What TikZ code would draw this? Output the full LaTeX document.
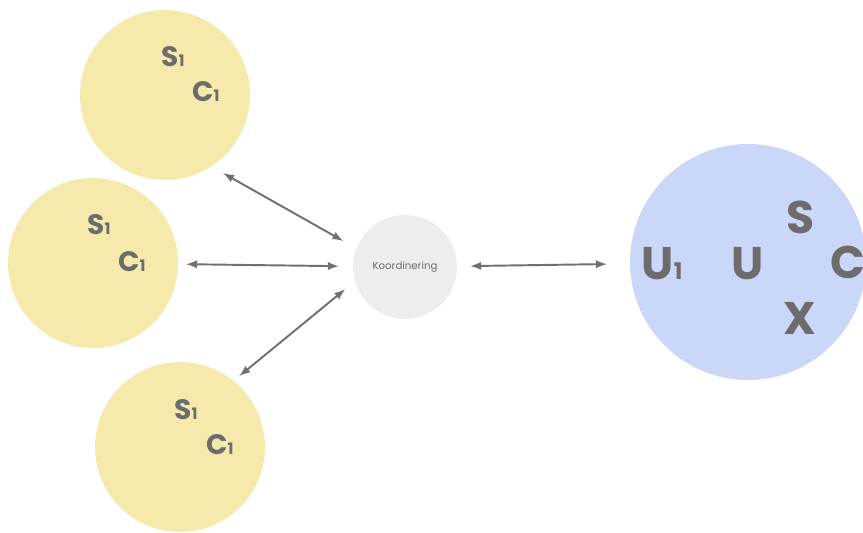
\documentclass[tikz,border=0pt]{standalone}
\usepackage{fontspec}
\setmainfont{Poppins}
\usepackage{tikz}
\usetikzlibrary{positioning}
\definecolor{memberFill}{RGB}{246,233,172}
\definecolor{unitFill}{RGB}{203,215,248}
\definecolor{coordFill}{RGB}{237,237,237}
\definecolor{labelGray}{RGB}{108,108,108}
\definecolor{arrowGray}{RGB}{112,112,112}
\tikzset{Member/.style={%
    shape=circle,%
    fill=memberFill,%
    minimum size=3.4cm,%
    inner sep=0pt,%
}}
\tikzset{Coordinator/.style={%
    shape=circle,%
    fill=coordFill,%
    minimum size=2.08cm,%
    inner sep=0pt,%
    text=labelGray,%
    font=\fontsize{5.8}{7}\selectfont,%
}}
\tikzset{Unit/.style={%
    shape=circle,%
    fill=unitFill,%
    minimum size=4.72cm,%
    inner sep=0pt,%
}}
\tikzset{SmallTag/.style={%
    text=labelGray,%
    font=\fontsize{16}{18}\selectfont\bfseries,%
    inner sep=0pt,%
}}
\tikzset{BigTag/.style={%
    text=labelGray,%
    font=\fontsize{26}{30}\selectfont\bfseries,%
    inner sep=0pt,%
}}
\tikzset{LinkEdge/.style={%
    <->,%
    >=latex,%
    draw=arrowGray,%
    line width=1.1pt,%
    shorten >=0.28cm,%
    shorten <=0.2cm,%
}}
\NewDocumentCommand{\tagOne}{m}{%
    #1{\fontsize{9}{9}\selectfont 1}%
}

\begin{document}
\begin{tikzpicture}[x=0.02cm,y=-0.02cm]
    \useasboundingbox (0,0) rectangle (863,532);

    % members on the left
    \node[Member] (m1) at (165,95) {};
    \node[Member] (m2) at (93,263) {};
    \node[Member] (m3) at (180,447) {};
    \node[Coordinator] (koord) at (405,267) {Koordinering};
    \node[Unit] (unit) at (748,262) {};

    \node[SmallTag] (m1s) at (173,57) {\tagOne{S}};
    \node[SmallTag] (m1c) at (206,92) {\tagOne{C}};
    \node[SmallTag] (m2s) at (99,225) {\tagOne{S}};
    \node[SmallTag] (m2c) at (132,262) {\tagOne{C}};
    \node[SmallTag] (m3s) at (186,410) {\tagOne{S}};
    \node[SmallTag] (m3c) at (220,445) {\tagOne{C}};

    % letters in the unit
    \node[BigTag] (u1) at (662,264) {U{\fontsize{13}{13}\selectfont 1}};
    \node[BigTag] (u) at (748,264) {U};
    \node[BigTag] (s) at (801,217) {S};
    \node[BigTag] (c) at (848,262) {C};
    \node[BigTag] (x) at (800,318) {X};

    \path (m1.-57) edge[LinkEdge, shorten <=0.27cm, shorten >=0.3cm] (koord.159);
    \path (m2) edge[LinkEdge, shorten <=0.16cm] (koord);
    \path (m3.51) edge[LinkEdge, shorten <=0.15cm, shorten >=0.25cm] (koord.196);
    \path (koord) edge[LinkEdge, shorten <=0.26cm, shorten >=0.46cm] (unit);
\end{tikzpicture}
\end{document}
